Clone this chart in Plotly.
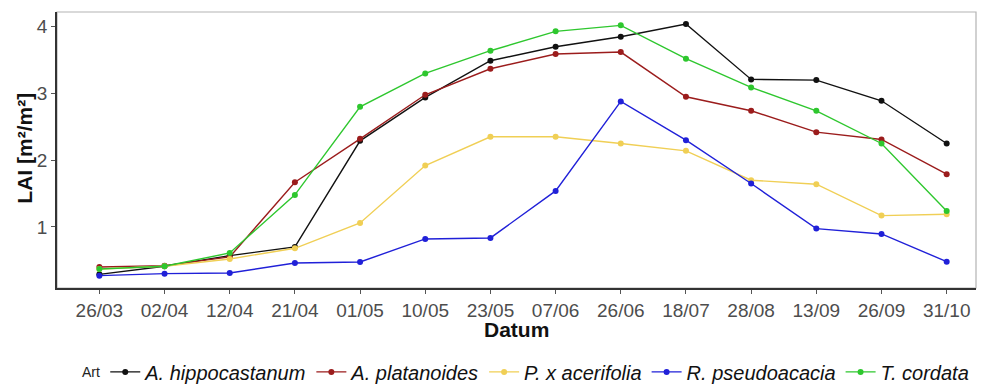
import plotly.graph_objects as go

dates = ["26/03", "02/04", "12/04", "21/04", "01/05", "10/05", "23/05",
         "07/06", "26/06", "18/07", "28/08", "13/09", "26/09", "31/10"]

hippocastanum = [0.29, 0.41, 0.57, 0.70, 2.29, 2.94, 3.49, 3.70, 3.85, 4.04, 3.21, 3.20, 2.89, 2.25]
platanoides   = [0.40, 0.42, 0.55, 1.67, 2.32, 2.98, 3.37, 3.59, 3.62, 2.95, 2.74, 2.42, 2.31, 1.79]
acerifolia    = [0.37, 0.41, 0.52, 0.68, 1.06, 1.92, 2.35, 2.35, 2.25, 2.14, 1.70, 1.64, 1.17, 1.19]
pseudoacacia  = [0.27, 0.30, 0.31, 0.46, 0.475, 0.82, 0.835, 1.54, 2.88, 2.30, 1.65, 0.975, 0.895, 0.48]
cordata       = [0.37, 0.41, 0.61, 1.48, 2.80, 3.30, 3.64, 3.93, 4.02, 3.52, 3.09, 2.74, 2.25, 1.24]

species = ["A. hippocastanum", "A. platanoides", "P. x acerifolia", "R. pseudoacacia", "T. cordata"]
series = [hippocastanum, platanoides, acerifolia, pseudoacacia, cordata]
colors = ["#111111", "#9b1c1c", "#f0cf55", "#2020d8", "#2ec72e"]

fig = go.Figure()
for name, vals, col in zip(species, series, colors):
    fig.add_trace(go.Scatter(
        x=dates, y=vals, name=f"<i>{name}</i>",
        mode="lines+markers",
        line=dict(color=col, width=1.4),
        marker=dict(color=col, size=6),
    ))

# light frame on the top/right of the panel
fig.add_shape(type="rect", xref="paper", yref="paper", x0=0, x1=1, y0=0, y1=1,
              line=dict(color="#b3b3b3", width=1.2), layer="below")

# axis titles and legend heading
fig.add_annotation(text="<b>Datum</b>", xref="paper", yref="paper",
                   x=0.5, y=-0.1486, xanchor="center", yanchor="middle",
                   showarrow=False, font=dict(size=21, color="#111111"))
fig.add_annotation(text="<b>LAI [m²/m²]</b>", xref="paper", yref="paper",
                   x=-0.0348, y=0.505, xanchor="center", yanchor="middle",
                   textangle=-90, showarrow=False, font=dict(size=21, color="#111111"))
fig.add_annotation(text="Art", xref="paper", yref="paper",
                   x=0.0250, y=-0.304, xanchor="left", yanchor="middle",
                   showarrow=False, font=dict(size=14, color="#222222"))

fig.update_layout(
    width=982, height=385,
    margin=dict(l=57, r=6, t=12, b=97, autoexpand=False),
    paper_bgcolor="white", plot_bgcolor="white",
    font=dict(family="Liberation Sans, Arial, sans-serif", color="#4d4d4d", size=19),
    showlegend=True,
    legend=dict(
        orientation="h", x=0.0525, xanchor="left", y=-0.304, yanchor="middle",
        font=dict(size=20, color="#111111"),
        itemwidth=30, tracegroupgap=0,
    ),
)
fig.update_xaxes(
    type="category", categoryorder="array", categoryarray=dates,
    range=[-0.65, 13.45],
    showgrid=False, zeroline=False, automargin=False,
    showline=True, linecolor="#333333", linewidth=1.5,
    ticks="outside", ticklen=4, tickcolor="#555555",
    tickfont=dict(size=19, color="#4d4d4d"),
)
fig.update_yaxes(
    range=[0.085, 4.22],
    tickvals=[1, 2, 3, 4], ticktext=["1", "2", "3", "4"],
    showgrid=False, zeroline=False, automargin=False,
    showline=True, linecolor="#333333", linewidth=1.5,
    ticks="outside", ticklen=4, tickcolor="#555555",
    tickfont=dict(size=19, color="#4d4d4d"),
)

fig.write_html("out.html")
